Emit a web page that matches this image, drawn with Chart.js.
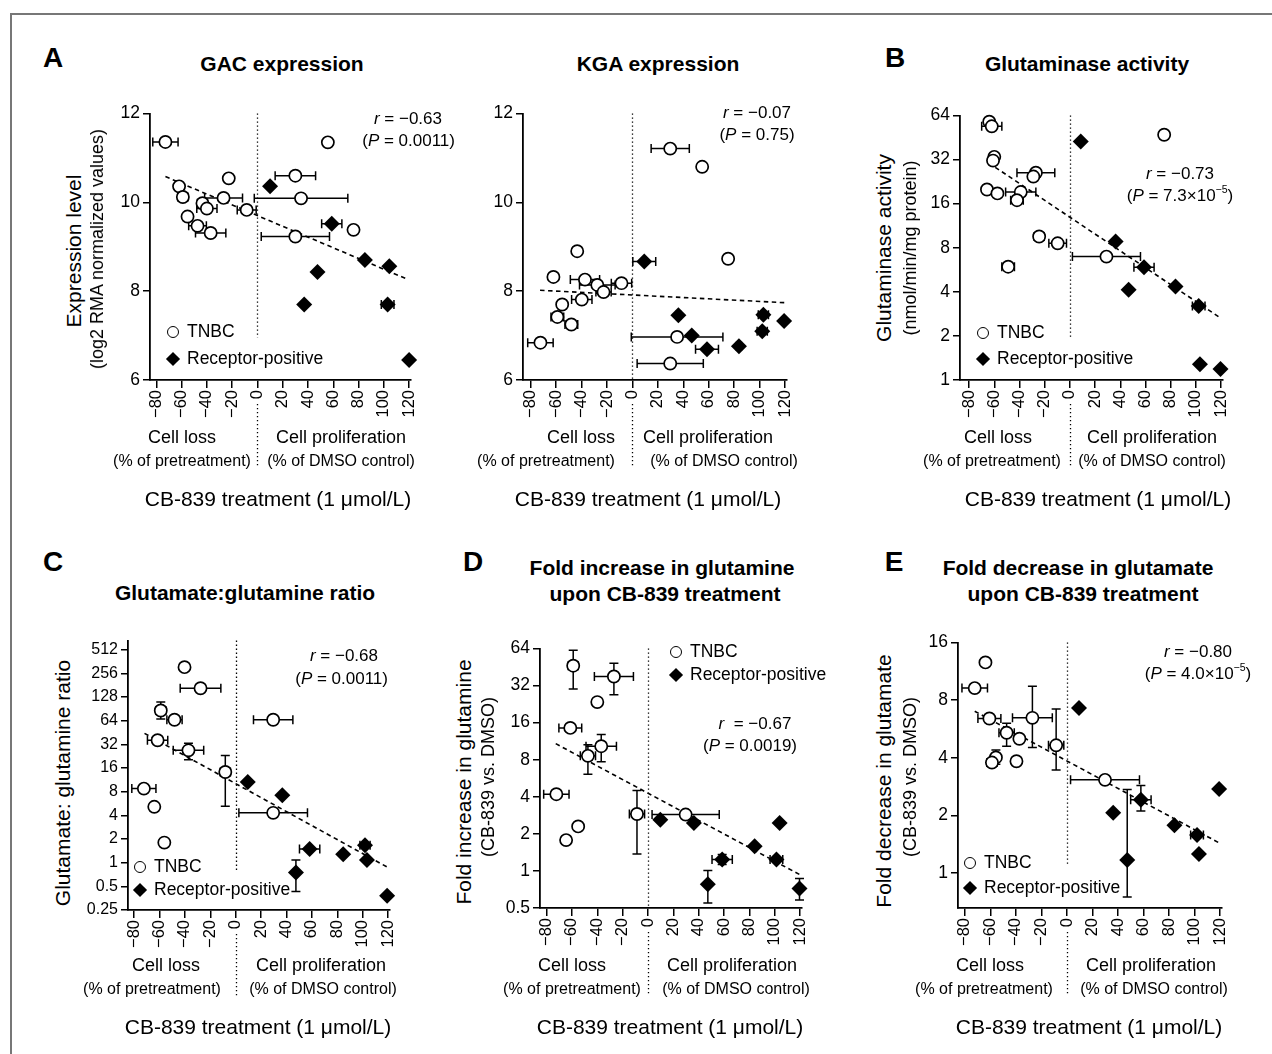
<!DOCTYPE html>
<html>
<head>
<meta charset="utf-8">
<script src="https://cdn.jsdelivr.net/npm/chart.js@4.4.1/dist/chart.umd.min.js"></script>
<style>
  html, body { margin: 0; padding: 0; background: #fff; }
  body { width: 1272px; height: 1054px; position: relative; overflow: hidden;
         font-family: "Liberation Sans", Arial, Helvetica, sans-serif; color: #000; }
  #cadre { position: absolute; left: 10px; top: 13px; width: 1280px; height: 1060px;
           border-left: 2.5px solid #777; border-top: 2.5px solid #777; }
  canvas { position: absolute; }
  .t { position: absolute; white-space: nowrap; line-height: 1; z-index: 2; }
  .t sup { font-size: 0.62em; position: relative; top: -0.1em; line-height: 0; }
  .rond { position: absolute; width: 10px; height: 10px; border: 1.7px solid #000; border-radius: 50%;
          background: #fff; transform: translate(-50%, -50%); z-index: 2; }
  .losange { position: absolute; width: 10px; height: 10px; background: #000;
             transform: translate(-50%, -50%) rotate(45deg); z-index: 2; }
</style>
</head>
<body>
<div id="cadre"></div>
<script>
// graduations communes de l'axe x
const xTicks = [-80, -60, -40, -20, 0, 20, 40, 60, 80, 100, 120];

// A - GAC expression
const gacTnbcX = [-72.8, 55.7, -22.7, 30, -62, -59, -26.8, 34.5, -43.5, -40, -8.5, -55.3, -47.4, -37, 30, 76];
const gacTnbcY = [11.36, 11.35, 10.54, 10.6, 10.36, 10.12, 10.1, 10.09, 9.98, 9.86, 9.83, 9.68, 9.47, 9.31, 9.23, 9.38];
const gacTnbcXErr = [10, 0, 3, 16, 0, 4, 15, 37, 4, 8, 7.5, 3, 7, 12, 27, 0];
const gacRecX = [10, 58.8, 85, 104.3, 47.5, 37, 103, 120];
const gacRecY = [10.36, 9.52, 8.7, 8.56, 8.43, 7.7, 7.7, 6.45];
const gacRecXErr = [0, 8, 0, 0, 0, 0, 5, 0];
const gacFitX = [-72.8, 118.5];
const gacFitY = [10.58, 8.27];

// A - KGA expression
const kgaTnbcX = [29.7, 54.8, -43.4, 75.2, -62.1, -37.3, -27.6, -8.6, -22.7, -39.8, -55.2, -59, -48, -72.3, 35.1, 29.7];
const kgaTnbcY = [11.21, 10.8, 8.9, 8.73, 8.32, 8.26, 8.14, 8.18, 7.98, 7.81, 7.7, 7.42, 7.25, 6.84, 6.97, 6.37];
const kgaTnbcXErr = [15, 0, 0, 0, 0, 11.5, 14, 8, 6, 8, 2, 5, 5, 10, 36, 26];
const kgaRecX = [9.3, 36.1, 46.6, 58.6, 83.7, 102.9, 102, 119.2];
const kgaRecY = [8.67, 7.46, 7.0, 6.69, 6.76, 7.47, 7.1, 7.33];
const kgaRecXErr = [9, 2, 0, 9, 2, 4, 4, 0];
const kgaFitX = [-72.6, 120];
const kgaFitY = [8.02, 7.74];
const exprTicks = [6, 8, 10, 12];

// B - Glutaminase activity
const actTnbcX = [-64, -62, -60, -61, -27, -29, -65.8, -57.5, -39, -42, -24.4, -9.7, -49, 29, 74.8];
const actTnbcY = [58, 54, 33.4, 31.5, 26, 24.5, 20, 18.8, 19.2, 16.9, 9.55, 8.58, 5.94, 6.96, 47.3];
const actTnbcXErr = [0, 8, 2, 0, 15, 0, 0, 0, 12, 5, 4, 7, 5, 27, 0];
const actRecX = [8.6, 36.3, 58.8, 46.6, 83.8, 102.2, 103.2, 119.5];
const actRecY = [42.6, 8.83, 5.88, 4.13, 4.35, 3.2, 1.28, 1.19];
const actRecXErr = [0, 0, 8, 0, 0, 5, 0, 0];
const actFitX = [-64.5, 118.2];
const actFitY = [30.4, 2.7];
const actTicks = [1, 2, 4, 8, 16, 32, 64];

// C - Glutamate:glutamine ratio
const ratTnbcX = [-40.3, -27.7, -59, -48.2, 29.5, -61.5, -37.2, -8.2, -72.3, -64.1, 29.5, -56.2];
const ratTnbcY = [306, 165, 86, 65.6, 65.6, 36, 26.8, 14.2, 8.74, 5.13, 4.3, 1.8];
const ratTnbcXErr = [0, 16, 4, 6, 15.5, 8, 12, 4, 9.5, 0, 27, 2];
const ratTnbcYLo = [null, null, 67, 58, null, null, 20.4, 5.2, null, null, null, null];
const ratTnbcYHi = [null, null, 110, 74, null, null, 33, 23, null, null, null, null];
const ratRecX = [9.5, 36.7, 58.2, 84.6, 101.8, 103.3, 47.4, 119.2];
const ratRecY = [10.6, 7.2, 1.49, 1.28, 1.67, 1.08, 0.75, 0.38];
const ratRecXErr = [0, 0, 8, 0, 4, 0, 0, 0];
const ratRecYLo = [null, null, null, null, null, null, 0.43, null];
const ratRecYHi = [null, null, null, null, null, null, 1.08, null];
const ratFitX = [-71.8, 119.7];
const ratFitY = [44, 0.87];
const ratTicks = [0.25, 0.5, 1, 2, 4, 8, 16, 32, 64, 128, 256, 512];

// D - Fold increase in glutamine
const glnTnbcX = [-59, -26.9, -40, -61.3, -36.9, -47.4, -72.3, -8.7, 29.7, -55.1, -64.6];
const glnTnbcY = [46.4, 37.9, 23.5, 14.5, 10.3, 8.6, 4.2, 2.9, 2.87, 2.3, 1.78];
const glnTnbcXErr = [4, 15.4, 0, 9, 12, 6, 10, 6, 26.5, 2, 2];
const glnTnbcYLo = [30, 27, null, null, 7.7, 6.1, null, 1.37, null, null, null];
const glnTnbcYHi = [62, 48.5, null, null, 12.8, 10.6, null, 4.5, null, null, null];
const glnRecX = [9.7, 36.2, 103.8, 84.1, 58.5, 101.3, 47.2, 119.5];
const glnRecY = [2.6, 2.45, 2.45, 1.59, 1.24, 1.24, 0.78, 0.72];
const glnRecXErr = [0, 0, 0, 0, 8, 5, 0, 0];
const glnRecYLo = [null, null, null, null, 1.13, null, 0.55, 0.58];
const glnRecYHi = [null, null, null, null, 1.36, null, 1.01, 0.87];
const glnFitX = [-72.8, 120];
const glnFitY = [10.8, 0.93];
const glnTicks = [0.5, 1, 2, 4, 8, 16, 32, 64];

// E - Fold decrease in glutamate
const gluTnbcX = [-63.9, -72.3, -60.8, -27.1, -47.3, -37.3, -8.5, -55.7, -58.8, -39.6, 29.8];
const gluTnbcY = [12.6, 9.25, 6.42, 6.47, 5.41, 5.03, 4.65, 4.02, 3.78, 3.84, 3.07];
const gluTnbcXErr = [0, 10, 9, 15.6, 6, 0, 6, 0, 4, 0, 27];
const gluTnbcYLo = [null, null, null, 4.53, 4.6, null, 3.46, 3.7, null, null, 2.95];
const gluTnbcYHi = [null, null, null, 9.45, 6.07, null, 7.2, 4.4, null, null, 3.2];
const gluRecX = [9.4, 57.9, 36.2, 119.2, 84.2, 101.9, 103.4, 47.2];
const gluRecY = [7.28, 2.42, 2.07, 2.75, 1.78, 1.58, 1.26, 1.17];
const gluRecXErr = [0, 8, 0, 0, 0, 5, 0, 0];
const gluRecYLo = [null, 2.11, null, null, null, null, null, 0.75];
const gluRecYHi = [null, 2.87, null, null, null, null, null, 2.73];
const gluFitX = [-72.3, 120];
const gluFitY = [7.0, 1.43];
const gluTicks = [1, 2, 4, 8, 16];

const police = '"Liberation Sans", Arial, Helvetica, sans-serif';
const YW = 50, XH = 40, PT = 12, PR = 14, PB = 56;

function pts(xs, ys) { return xs.map((x, i) => ({ x: x, y: ys[i] })); }
function moins(v) { return v < 0 ? '\u2212' + Math.abs(v) : String(v); }

// plugin : ligne pointillée à x = 0 et barres d'erreur
const extras = {
  id: 'extras',
  beforeDatasetsDraw(chart) {
    const ctx = chart.ctx, xs = chart.scales.x, ys = chart.scales.y, a = chart.chartArea;
    const o = chart.options.plugins.extras;
    const x0 = Math.round(xs.getPixelForValue(0)) + 0.5;
    ctx.save();
    ctx.strokeStyle = '#000';
    ctx.lineWidth = 1.3;
    ctx.setLineDash([1.3, 2.7]);
    ctx.beginPath();
    ctx.moveTo(x0, a.top);
    ctx.lineTo(x0, ys.getPixelForValue(o.dotStop));
    ctx.moveTo(x0, a.bottom + 24);
    ctx.lineTo(x0, a.bottom + 88);
    ctx.stroke();
    ctx.setLineDash([]);
    ctx.lineWidth = 1.5;
    const cap = 4.5;
    chart.data.datasets.forEach(ds => {
      if (!ds.errX) return;
      ds.data.forEach((p, i) => {
        const px = xs.getPixelForValue(p.x), py = ys.getPixelForValue(p.y);
        const e = ds.errX[i];
        ctx.beginPath();
        if (e) {
          const l = xs.getPixelForValue(p.x - e), r = xs.getPixelForValue(p.x + e);
          ctx.moveTo(l, py); ctx.lineTo(r, py);
          ctx.moveTo(l, py - cap); ctx.lineTo(l, py + cap);
          ctx.moveTo(r, py - cap); ctx.lineTo(r, py + cap);
        }
        const lo = ds.errLo ? ds.errLo[i] : null, hi = ds.errHi ? ds.errHi[i] : null;
        if (lo != null && hi != null) {
          const b = ys.getPixelForValue(lo), h = ys.getPixelForValue(hi);
          ctx.moveTo(px, b); ctx.lineTo(px, h);
          ctx.moveTo(px - cap, b); ctx.lineTo(px + cap, b);
          ctx.moveTo(px - cap, h); ctx.lineTo(px + cap, h);
        }
        ctx.stroke();
      });
    });
    ctx.restore();
  }
};

function panneau(p) {
  const c = document.createElement('canvas');
  const w = YW + (p.right - p.axisX) + PR;
  const h = PT + (p.bottom - p.top) + XH + PB;
  c.width = w; c.height = h;
  c.style.left = (p.axisX - YW) + 'px';
  c.style.top = (p.top - PT) + 'px';
  c.style.width = w + 'px';
  c.style.height = h + 'px';
  document.body.appendChild(c);
  return new Chart(c, {
    type: 'scatter',
    data: {
      datasets: [
        { data: pts(p.tx, p.ty), errX: p.txe, errLo: p.tlo, errHi: p.thi,
          pointStyle: 'circle', pointRadius: 6.1, pointBorderWidth: 1.7,
          borderColor: '#000', backgroundColor: '#fff', order: 1, clip: false },
        { data: pts(p.rx, p.ry), errX: p.rxe, errLo: p.rlo, errHi: p.rhi,
          pointStyle: 'rectRot', pointRadius: 8, pointBorderWidth: 0,
          borderColor: '#000', backgroundColor: '#000', order: 2, clip: false },
        { type: 'line', data: pts(p.fx, p.fy), borderColor: '#000', borderWidth: 1.6,
          borderDash: [4.5, 3.5], pointRadius: 0, fill: false, order: 3 }
      ]
    },
    options: {
      responsive: false,
      animation: false,
      events: [],
      layout: { padding: { top: PT, right: PR, bottom: PB, left: 0 } },
      plugins: { legend: { display: false }, tooltip: { enabled: false }, extras: { dotStop: p.dotStop } },
      scales: {
        x: {
          type: 'linear', min: p.xMin, max: p.xMax,
          afterBuildTicks: s => { s.ticks = xTicks.map(v => ({ value: v })); },
          afterFit: s => { s.height = XH; },
          ticks: { minRotation: 90, maxRotation: 90, padding: 2, color: '#000',
                   font: { family: police, size: 16.5 }, callback: v => moins(v) },
          grid: { drawOnChartArea: false, tickLength: 8, color: '#000', lineWidth: 1.5 },
          border: { color: '#000', width: 1.8 }
        },
        y: {
          type: p.yType, min: p.yMin, max: p.yMax,
          afterBuildTicks: s => { s.ticks = p.yTicks.map(v => ({ value: v })); },
          afterFit: s => { s.width = YW; },
          ticks: { padding: 3, color: '#000', font: { family: police, size: p.yFont },
                   callback: (v, i) => String(p.yTicks[i]) },
          grid: { drawOnChartArea: false, tickLength: 7, color: '#000', lineWidth: 1.5 },
          border: { color: '#000', width: 1.8 }
        }
      }
    },
    plugins: [extras]
  });
}

function texte(html, x, y, taille, opts) {
  opts = opts || {};
  const d = document.createElement('div');
  d.className = 't';
  d.innerHTML = html;
  d.style.fontSize = taille + 'px';
  if (opts.gras) d.style.fontWeight = 'bold';
  d.style.left = x + 'px';
  d.style.top = y + 'px';
  let tx = '-50%';
  if (opts.align === 'right') tx = '-100%';
  if (opts.align === 'left') tx = '0';
  d.style.transform = 'translate(' + tx + ',-50%)' + (opts.rot ? ' rotate(-90deg)' : '');
  document.body.appendChild(d);
}

function legende(x, y1, y2) {
  const r = document.createElement('div');
  r.className = 'rond'; r.style.left = x + 'px'; r.style.top = y1 + 'px';
  document.body.appendChild(r);
  const l = document.createElement('div');
  l.className = 'losange'; l.style.left = x + 'px'; l.style.top = y2 + 'px';
  document.body.appendChild(l);
  texte('TNBC', x + 14, y1, 17.5, { align: 'left' });
  texte('Receptor-positive', x + 14, y2, 17.5, { align: 'left' });
}

function dessous(xLoss, xLossSub, xProl, xProlSub, xTitre, y) {
  texte('Cell loss', xLoss, y, 18);
  texte('(% of pretreatment)', xLossSub, y + 24, 16);
  texte('Cell proliferation', xProl, y, 18);
  texte('(% of DMSO control)', xProlSub, y + 24, 16);
  texte('CB-839 treatment (1 \u03bcmol/L)', xTitre, y + 61, 21);
}

// --- graphiques ---
panneau({ axisX: 150, top: 112, bottom: 380, right: 417, xMin: -85, xMax: 121,
  yType: 'linear', yMin: 6, yMax: 12, yTicks: exprTicks, yFont: 17.5, dotStop: 6.95,
  tx: gacTnbcX, ty: gacTnbcY, txe: gacTnbcXErr, rx: gacRecX, ry: gacRecY, rxe: gacRecXErr,
  fx: gacFitX, fy: gacFitY });

panneau({ axisX: 523, top: 112, bottom: 380, right: 793, xMin: -86, xMax: 121,
  yType: 'linear', yMin: 6, yMax: 12, yTicks: exprTicks, yFont: 17.5, dotStop: 6,
  tx: kgaTnbcX, ty: kgaTnbcY, txe: kgaTnbcXErr, rx: kgaRecX, ry: kgaRecY, rxe: kgaRecXErr,
  fx: kgaFitX, fy: kgaFitY });

panneau({ axisX: 960, top: 114, bottom: 380, right: 1229, xMin: -87.2, xMax: 121,
  yType: 'logarithmic', yMin: 1, yMax: 64, yTicks: actTicks, yFont: 17.5, dotStop: 1.95,
  tx: actTnbcX, ty: actTnbcY, txe: actTnbcXErr, rx: actRecX, ry: actRecY, rxe: actRecXErr,
  fx: actFitX, fy: actFitY });

panneau({ axisX: 128, top: 640, bottom: 910, right: 396, xMin: -84.8, xMax: 121,
  yType: 'logarithmic', yMin: 0.25, yMax: 666, yTicks: ratTicks, yFont: 16, dotStop: 0.8,
  tx: ratTnbcX, ty: ratTnbcY, txe: ratTnbcXErr, tlo: ratTnbcYLo, thi: ratTnbcYHi,
  rx: ratRecX, ry: ratRecY, rxe: ratRecXErr, rlo: ratRecYLo, rhi: ratRecYHi,
  fx: ratFitX, fy: ratFitY });

panneau({ axisX: 540, top: 647, bottom: 908, right: 808, xMin: -85.2, xMax: 121,
  yType: 'logarithmic', yMin: 0.5, yMax: 64, yTicks: glnTicks, yFont: 17.5, dotStop: 0.5,
  tx: glnTnbcX, ty: glnTnbcY, txe: glnTnbcXErr, tlo: glnTnbcYLo, thi: glnTnbcYHi,
  rx: glnRecX, ry: glnRecY, rxe: glnRecXErr, rlo: glnRecYLo, rhi: glnRecYHi,
  fx: glnFitX, fy: glnFitY });

panneau({ axisX: 958, top: 641, bottom: 908, right: 1228, xMin: -85.4, xMax: 121,
  yType: 'logarithmic', yMin: 0.658, yMax: 16, yTicks: gluTicks, yFont: 17.5, dotStop: 1.1,
  tx: gluTnbcX, ty: gluTnbcY, txe: gluTnbcXErr, tlo: gluTnbcYLo, thi: gluTnbcYHi,
  rx: gluRecX, ry: gluRecY, rxe: gluRecXErr, rlo: gluRecYLo, rhi: gluRecYHi,
  fx: gluFitX, fy: gluFitY });

// --- textes : rangée du haut ---
texte('A', 53, 58, 28, { gras: true });
texte('GAC expression', 282, 63, 21, { gras: true });
texte('Expression level', 73, 251, 21, { rot: true });
texte('(log2 RMA normalized values)', 97, 249, 18, { rot: true });
texte('<i>r</i> = \u22120.63', 442, 118, 17, { align: 'right' });
texte('(<i>P</i> = 0.0011)', 455, 140, 17, { align: 'right' });
legende(173, 332, 359);
dessous(182, 182, 341, 341, 278, 437);

texte('KGA expression', 658, 63, 21, { gras: true });
texte('<i>r</i> = \u22120.07', 757, 112, 17);
texte('(<i>P</i> = 0.75)', 757, 134, 17);
dessous(581, 546, 708, 724, 648, 437);

texte('B', 895, 58, 28, { gras: true });
texte('Glutaminase activity', 1087, 63, 21, { gras: true });
texte('Glutaminase activity', 883, 248, 21, { rot: true });
texte('(nmol/min/mg protein)', 910, 248, 18, { rot: true });
texte('<i>r</i> = \u22120.73', 1180, 173, 17);
texte('(<i>P</i> = 7.3\u00d710<sup>\u22125</sup>)', 1180, 195, 17);
legende(983, 333, 359);
dessous(998, 992, 1152, 1152, 1098, 437);

// --- textes : rangée du bas ---
texte('C', 53, 562, 28, { gras: true });
texte('Glutamate:glutamine ratio', 245, 592, 21, { gras: true });
texte('Glutamate: glutamine ratio', 62, 783, 21, { rot: true });
texte('<i>r</i> = \u22120.68', 378, 655, 17, { align: 'right' });
texte('(<i>P</i> = 0.0011)', 388, 678, 17, { align: 'right' });
legende(140, 867, 890);
dessous(166, 152, 321, 323, 258, 965);

texte('D', 473, 562, 28, { gras: true });
texte('Fold increase in glutamine', 662, 567, 21, { gras: true });
texte('upon CB-839 treatment', 665, 593, 21, { gras: true });
texte('Fold increase in glutamine', 463, 782, 21, { rot: true });
texte('(CB-839 vs. DMSO)', 488, 777, 18, { rot: true });
texte('<i>r</i>&nbsp; = \u22120.67', 755, 723, 17);
texte('(<i>P</i> = 0.0019)', 750, 745, 17);
legende(676, 652, 675);
dessous(572, 572, 732, 736, 670, 965);

texte('E', 894, 562, 28, { gras: true });
texte('Fold decrease in glutamate', 1078, 567, 21, { gras: true });
texte('upon CB-839 treatment', 1083, 593, 21, { gras: true });
texte('Fold decrease in glutamate', 883, 781, 21, { rot: true });
texte('(CB-839 vs. DMSO)', 910, 777, 18, { rot: true });
texte('<i>r</i> = \u22120.80', 1198, 651, 17);
texte('(<i>P</i> = 4.0\u00d710<sup>\u22125</sup>)', 1198, 673, 17);
legende(970, 863, 888);
dessous(990, 984, 1151, 1154, 1089, 965);
</script>
</body>
</html>
